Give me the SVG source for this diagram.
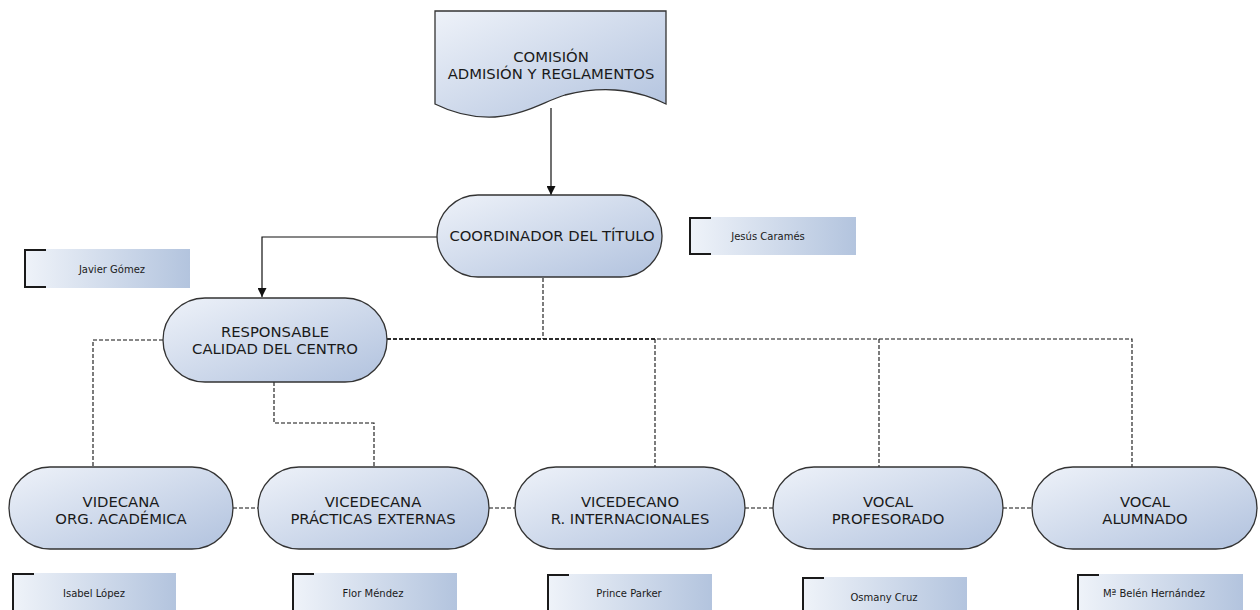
<svg xmlns="http://www.w3.org/2000/svg" width="1260" height="610" viewBox="0 0 1260 610">
  <defs>
    <linearGradient id="nodeFill" x1="0" y1="0" x2="1" y2="1">
      <stop offset="0" stop-color="#eef2f9"/>
      <stop offset="1" stop-color="#b1c2de"/>
    </linearGradient>
    <linearGradient id="tagFill" x1="0" y1="0" x2="1" y2="0">
      <stop offset="0" stop-color="#eff3f9"/>
      <stop offset="1" stop-color="#b3c4de"/>
    </linearGradient>
    <marker id="arrow" viewBox="0 0 10 10" refX="10" refY="5" markerWidth="9" markerHeight="9" markerUnits="userSpaceOnUse" orient="auto">
      <path d="M0,0 L10,5 L0,10 Z" fill="#111"/>
    </marker>
  </defs>
  <style>
    .node { fill: url(#nodeFill); stroke: #333; stroke-width: 1.3; }
    .tag { fill: url(#tagFill); stroke: none; }
    .bracket { fill: none; stroke: #1a1a1a; stroke-width: 2; }
    .title { font-family: "DejaVu Sans", "Liberation Sans", sans-serif; font-size: 14.8px; fill: #1a1a1a; text-anchor: middle; }
    .name { font-family: "DejaVu Sans", "Liberation Sans", sans-serif; font-size: 10px; fill: #1a1a1a; text-anchor: middle; }
    .solid { fill: none; stroke: #111; stroke-width: 1.2; }
    .dash { fill: none; stroke: #111; stroke-width: 1.1; stroke-dasharray: 4 2; }
  </style>
  <rect width="1260" height="610" fill="#ffffff"/>

  <!-- connectors -->
  <g id="connectors">
    <path class="solid" d="M551,108 V195" marker-end="url(#arrow)"/>
    <path class="solid" d="M437,237 H262 V297" marker-end="url(#arrow)"/>
    <path class="dash" d="M543,278 V339"/>
    <path class="dash" d="M387,339 H1132 V467"/>
    <path class="dash" style="stroke-width:1.7" d="M387,339 H655"/>
    <path class="dash" d="M655,339 V467"/>
    <path class="dash" d="M879,339 V467"/>
    <path class="dash" d="M163,340 H93 V467"/>
    <path class="dash" d="M274,382 V423 H374 V467"/>
    <path class="dash" d="M233,508 H258"/>
    <path class="dash" d="M489,508 H515"/>
    <path class="dash" d="M745,508 H773"/>
    <path class="dash" d="M1003,508 H1032"/>
  </g>

  <!-- committee document -->
  <g id="comision">
    <path class="node" d="M435,11 H666 V104 C655,99 640,92 615,90 C600,89 585,90 565,95 C545,101 525,115 495,117 C475,118 455,114 435,104 Z"/>
    <text class="title" x="551" y="62">COMISIÓN</text>
    <text class="title" x="551" y="79">ADMISIÓN Y REGLAMENTOS</text>
  </g>

  <g id="coordinador">
    <rect class="node" x="437" y="195" width="225" height="82" rx="41" ry="41"/>
    <text class="title" x="552" y="241">COORDINADOR DEL TÍTULO</text>
  </g>

  <g id="tag-carames">
    <rect class="tag" x="689" y="217" width="167" height="38"/>
    <path class="bracket" d="M711,218 H690 V254 H711"/>
    <text class="name" x="768" y="240">Jesús Caramés</text>
  </g>

  <g id="tag-gomez">
    <rect class="tag" x="24" y="249" width="166" height="39"/>
    <path class="bracket" d="M46,250 H25 V287 H46"/>
    <text class="name" x="112" y="273">Javier Gómez</text>
  </g>

  <g id="responsable">
    <rect class="node" x="163" y="298" width="224" height="84" rx="42" ry="42"/>
    <text class="title" x="275" y="337">RESPONSABLE</text>
    <text class="title" x="275" y="354">CALIDAD DEL CENTRO</text>
  </g>

  <!-- bottom row -->
  <g id="videcana">
    <rect class="node" x="9" y="467" width="224" height="82" rx="41" ry="41"/>
    <text class="title" x="121" y="507">VIDECANA</text>
    <text class="title" x="121" y="524">ORG. ACADÉMICA</text>
  </g>

  <g id="practicas">
    <rect class="node" x="258" y="467" width="231" height="82" rx="41" ry="41"/>
    <text class="title" x="373" y="507">VICEDECANA</text>
    <text class="title" x="373" y="524">PRÁCTICAS EXTERNAS</text>
  </g>

  <g id="internacionales">
    <rect class="node" x="515" y="467" width="230" height="82" rx="41" ry="41"/>
    <text class="title" x="630" y="507">VICEDECANO</text>
    <text class="title" x="630" y="524">R. INTERNACIONALES</text>
  </g>

  <g id="profesorado">
    <rect class="node" x="773" y="467" width="230" height="82" rx="41" ry="41"/>
    <text class="title" x="888" y="507">VOCAL</text>
    <text class="title" x="888" y="524">PROFESORADO</text>
  </g>

  <g id="alumnado">
    <rect class="node" x="1032" y="467" width="225" height="82" rx="41" ry="41"/>
    <text class="title" x="1145" y="507">VOCAL</text>
    <text class="title" x="1145" y="524">ALUMNADO</text>
  </g>

  <!-- name tags -->
  <g id="tag-lopez">
    <rect class="tag" x="12" y="573" width="164" height="38"/>
    <path class="bracket" d="M34,574 H13 V612"/>
    <text class="name" x="94" y="597">Isabel López</text>
  </g>

  <g id="tag-mendez">
    <rect class="tag" x="292" y="573" width="165" height="38"/>
    <path class="bracket" d="M314,574 H293 V612"/>
    <text class="name" x="373" y="597">Flor Méndez</text>
  </g>

  <g id="tag-parker">
    <rect class="tag" x="547" y="574" width="165" height="38"/>
    <path class="bracket" d="M569,575 H548 V612"/>
    <text class="name" x="629" y="597">Prince Parker</text>
  </g>

  <g id="tag-cruz">
    <rect class="tag" x="802" y="577" width="165" height="38"/>
    <path class="bracket" d="M824,578 H803 V612"/>
    <text class="name" x="884" y="601">Osmany Cruz</text>
  </g>

  <g id="tag-hernandez">
    <rect class="tag" x="1077" y="574" width="166" height="38"/>
    <path class="bracket" d="M1099,575 H1078 V612"/>
    <text class="name" x="1154" y="597">Mª Belén Hernández</text>
  </g>
</svg>
